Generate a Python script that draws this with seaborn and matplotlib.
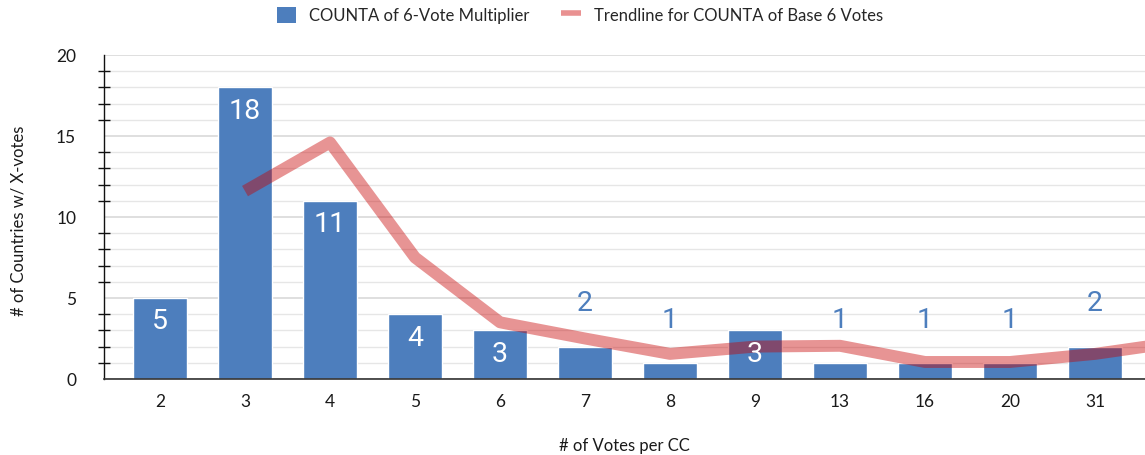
import matplotlib
matplotlib.use("Agg")
import matplotlib.pyplot as plt
from matplotlib.patches import Patch
from matplotlib.lines import Line2D
from matplotlib.ticker import MultipleLocator
import seaborn as sns
import pandas as pd

# ---- data ----
categories = ["2", "3", "4", "5", "6", "7", "8", "9", "13", "16", "20", "31"]
bar_values = [5, 18, 11, 4, 3, 2, 1, 3, 1, 1, 1, 2]
# trendline points (category index; last point lies beyond the cropped right edge)
trend_pos = [1, 2, 3, 4, 5, 6, 7, 8, 9, 10, 11, 12]
trend_values = [11.6, 14.6, 7.5, 3.5, 2.5, 1.55, 2.0, 2.05, 1.05, 1.05, 1.55, 2.3]

bar_label = "COUNTA of 6-Vote Multiplier"
line_label = "Trendline for COUNTA of Base 6 Votes"
x_title = "# of Votes per CC"
y_title = "# of Countries w/ X-votes"

BLUE = "#4d7ebd"
LINE = "#c80000"
LINE_LEG = "#e99191"
FONT = "Lato"
TXT = "#1a1a1a"

sns.set_theme(style="white")
plt.rcParams["font.family"] = [FONT, "DejaVu Sans"]

fig = plt.figure(figsize=(11.45, 4.56), dpi=100)
ax = fig.add_axes([104 / 1145, 76 / 456, (1145 - 104) / 1145, 324 / 456])

df = pd.DataFrame({"cat": categories, "val": bar_values})
sns.barplot(data=df, x="cat", y="val", order=categories, color=BLUE,
            saturation=1, width=0.64, ax=ax, zorder=3)

sns.lineplot(x=trend_pos, y=trend_values, color=LINE, alpha=0.42,
             linewidth=8.6, ax=ax, zorder=4, solid_joinstyle="round",
             solid_capstyle="butt")

# value labels
for i, v in enumerate(bar_values):
    if v > 2:
        ax.annotate(str(v), (i, v), xytext=(0, -16.5), textcoords="offset points",
                    ha="center", va="center", color="white", fontsize=20.5,
                    family="Roboto", zorder=6)
    else:
        ax.annotate(str(v), (i, v), xytext=(0, 31.5), textcoords="offset points",
                    ha="center", va="center", color=BLUE, fontsize=20.5,
                    family="Roboto", zorder=6)

ax.set_xlim(-0.659, 11.588)
ax.set_ylim(0, 20)
ax.yaxis.set_major_locator(MultipleLocator(5))
ax.yaxis.set_minor_locator(MultipleLocator(1))
ax.grid(which="major", axis="y", color="#d6d6d6", linewidth=1.1, zorder=0)
ax.grid(which="minor", axis="y", color="#e6e6e6", linewidth=1.0, zorder=0)
ax.grid(which="major", axis="x", visible=False)
ax.set_axisbelow(True)

for s in ["top", "right"]:
    ax.spines[s].set_visible(False)
ax.spines["left"].set_color("#111111")
ax.spines["left"].set_linewidth(1.0)
ax.spines["bottom"].set_color("#333333")
ax.spines["bottom"].set_linewidth(1.2)
ax.spines["bottom"].set_zorder(5)

ax.tick_params(axis="y", which="major", length=0, pad=20, labelsize=12.5,
               labelcolor=TXT)
ax.tick_params(axis="y", which="minor", direction="inout", length=8.5,
               width=1.0, color="#111111", left=True)
ax.tick_params(axis="x", which="both", length=0, pad=10, labelsize=12.5,
               labelcolor=TXT)

ax.set_xlabel(x_title, fontsize=12, color=TXT)
ax.set_ylabel(y_title, fontsize=12, color=TXT)
ax.xaxis.set_label_coords(0.5, -0.178)
ax.yaxis.set_label_coords(-0.074, 0.49)

handles = [Patch(facecolor=BLUE, edgecolor="none", label=bar_label),
           Line2D([0], [0], color=LINE_LEG, linewidth=4, solid_capstyle="butt",
                  label=line_label)]
fig.legend(handles=handles, loc="center", bbox_to_anchor=(580 / 1145, 0.965),
           ncol=2, frameon=False, fontsize=12, handlelength=1.15,
           handleheight=1.15, columnspacing=1.9, handletextpad=0.8)

fig.savefig("out.png", dpi=100)
